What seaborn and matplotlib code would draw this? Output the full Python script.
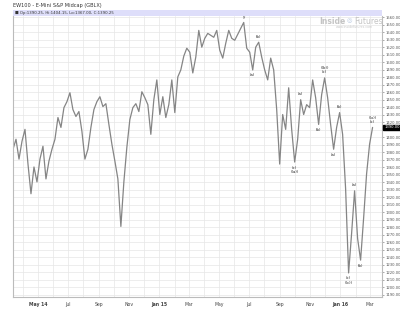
import matplotlib
matplotlib.use("Agg")
import matplotlib.pyplot as plt
import matplotlib.dates as mdates
import matplotlib.transforms as mtransforms
import numpy as np
import pandas as pd
import seaborn as sns

# ---------------- data ----------------
closes = [
    1384.2, 1397.5, 1371.0, 1394.8, 1410.7, 1364.4, 1324.8, 1360.5, 1340.6, 1371.0,
    1388.2, 1344.6, 1368.4, 1384.2, 1397.5, 1426.5, 1413.3, 1439.7, 1447.7, 1459.6,
    1437.1, 1427.9, 1434.5, 1408.0, 1371.0, 1384.2, 1413.3, 1437.1, 1447.7, 1454.3,
    1441.1, 1445.0, 1417.3, 1390.9, 1368.4, 1344.6, 1281.2, 1340.6, 1386.9, 1423.9,
    1439.7, 1445.0, 1434.5, 1460.9, 1453.0, 1443.7, 1404.1, 1450.3, 1476.7, 1430.5,
    1454.3, 1426.5, 1443.7, 1476.7, 1433.1, 1480.7, 1490.0, 1508.5, 1519.0, 1513.7,
    1486.0, 1507.1, 1542.8, 1520.4, 1532.2, 1538.8, 1536.2, 1533.6, 1542.8, 1516.4,
    1505.8, 1525.6, 1542.8, 1532.2, 1529.6, 1537.5, 1545.5, 1553.4, 1519.0, 1513.7,
    1490.0, 1520.4, 1527.0, 1507.1, 1490.0, 1476.7, 1505.8, 1490.0, 1437.1, 1364.4,
    1430.5, 1410.7, 1466.2, 1410.7, 1367.1, 1397.5, 1450.3, 1430.5, 1443.7, 1439.7,
    1476.7, 1453.0, 1417.3, 1456.9, 1479.4, 1453.0, 1417.3, 1384.2, 1413.3, 1433.1,
    1404.1, 1331.4, 1219.1, 1271.9, 1328.7, 1265.3, 1236.2, 1291.7, 1351.2, 1390.9,
    1413.3,
]
start_date = "2014-03-12"
end_date = "2016-03-06"

tick_dates = ["2014-05-01", "2014-07-01", "2014-09-01", "2014-11-01", "2015-01-01",
              "2015-03-01", "2015-05-01", "2015-07-01", "2015-09-01", "2015-11-01",
              "2016-01-01", "2016-03-01"]
tick_labels = ["May 14", "Jul", "Sep", "Nov", "Jan 15", "Mar", "May", "Jul", "Sep",
               "Nov", "Jan 16", "Mar"]
bold_labels = ["May 14", "Jan 15", "Jan 16"]

y_ticks = list(range(1190, 1561, 10))

# wave labels: (index into closes, text lines, above?)
wave_labels = [
    (77, ["y"], True),
    (80, ["(a)"], False),
    (82, ["(b)"], True),
    (94, ["(c)", "((a))"], False),
    (96, ["(a)"], True),
    (102, ["(b)"], False),
    (104, ["((b))", "(c)"], True),
    (107, ["(a)"], False),
    (109, ["(b)"], True),
    (112, ["(c)", "((c))"], False),
    (114, ["(a)"], True),
    (116, ["(b)"], False),
    (120, ["((x))", "(c)"], True),
]

title_text = "EW100 - E-Mini S&P Midcap (GBLX)"
legend_text = "Op:1390.25, Hi:1404.15, Lo:1367.00, C:1390.25"
last_label = "1390.00"

# ---------------- figure ----------------
sns.set_theme(style="white")
plt.rcParams["font.family"] = ["DejaVu Sans"]

W, H = 400, 313
fig = plt.figure(figsize=(W / 100, H / 100), dpi=100)
fig.patch.set_facecolor("white")

left, right, top, bottom = 13, 382, 16, 297
ax = fig.add_axes([left / W, 1 - bottom / H, (right - left) / W, (bottom - top) / H])

df = pd.DataFrame({
    "date": pd.date_range(start_date, end_date, periods=len(closes)),
    "close": closes,
})

sns.lineplot(data=df, x="date", y="close", ax=ax, color="#858585", linewidth=0.9)

ax.set_xlim(pd.Timestamp("2014-03-12"), pd.Timestamp("2016-03-25"))
ax.set_ylim(1187, 1562)

# ticks and grid
ax.xaxis.set_major_locator(matplotlib.ticker.FixedLocator(mdates.date2num(pd.to_datetime(tick_dates))))
ax.xaxis.set_minor_locator(mdates.MonthLocator())
ax.set_xticklabels(tick_labels)
for lab in ax.get_xticklabels():
    lab.set_fontsize(3.3)
    lab.set_color("#444444")
    if lab.get_text() in bold_labels:
        lab.set_fontweight("bold")
ax.set_yticks(y_ticks)
ax.set_yticklabels([f"{v:.2f}" for v in y_ticks])
ax.yaxis.tick_right()
for lab in ax.get_yticklabels():
    lab.set_fontsize(2.7)
    lab.set_color("#555555")
ax.tick_params(axis="x", which="major", length=2, width=0.5, color="#888888", pad=1.5)
ax.tick_params(axis="x", which="minor", length=0)
ax.tick_params(axis="y", length=1.5, width=0.5, color="#888888", pad=0.8)
ax.grid(True, which="both", axis="x", color="#e6e6e6", linewidth=0.5)
ax.grid(True, which="major", axis="y", color="#e6e6e6", linewidth=0.5)
ax.set_axisbelow(True)
ax.set_xlabel("")
ax.set_ylabel("")
ax.spines["top"].set_visible(False)
for side in ["left", "bottom", "right"]:
    ax.spines[side].set_color("#bbbbbb")
    ax.spines[side].set_linewidth(0.8)

# wave labels
for idx, lines, above in wave_labels:
    d = df["date"].iloc[idx]
    v = df["close"].iloc[idx]
    txt = "\n".join(lines)
    ax.annotate(txt, (d, v), xytext=(0, 2.5 if above else -2.5), textcoords="offset points",
                ha="center", va="bottom" if above else "top", fontsize=2.8,
                color="#222222", linespacing=1.1)

# last price box
trans = mtransforms.blended_transform_factory(ax.transAxes, ax.transData)
ax.text(1.006, closes[-1], last_label, transform=trans, fontsize=2.7, color="white",
        ha="left", va="center",
        bbox=dict(boxstyle="square,pad=0.2", fc="black", ec="black"))

# header band
band = fig.add_axes([left / W, 1 - top / H, (right - left) / W, 6 / H])
band.set_facecolor("#dedefa")
band.set_xticks([])
band.set_yticks([])
for s in band.spines.values():
    s.set_visible(False)
band.text(0.006, 0.5, "\u25a0 " + legend_text, fontsize=2.8, color="#333333",
          va="center", ha="left", transform=band.transAxes)

fig.text(left / W, 1 - 5 / H, title_text, fontsize=3.6, color="#333333",
         ha="left", va="center")

# watermark
fig.text(346 / W, 1 - 21 / H, "Inside", fontsize=5.5, color="#c4c4c4", ha="right",
         va="center", fontweight="bold")
fig.text(347 / W, 1 - 21 / H, "\u25ce", fontsize=4.5, color="#b8c8e0", ha="left",
         va="center")
fig.text(354 / W, 1 - 21 / H, "Futures", fontsize=5.5, color="#c4c4c4", ha="left",
         va="center")
fig.text(354 / W, 1 - 26.5 / H, "www.insidefutures.com", fontsize=2.3, color="#c8c8c8",
         ha="center", va="center")

fig.savefig("out.png", dpi=100, facecolor="white")
